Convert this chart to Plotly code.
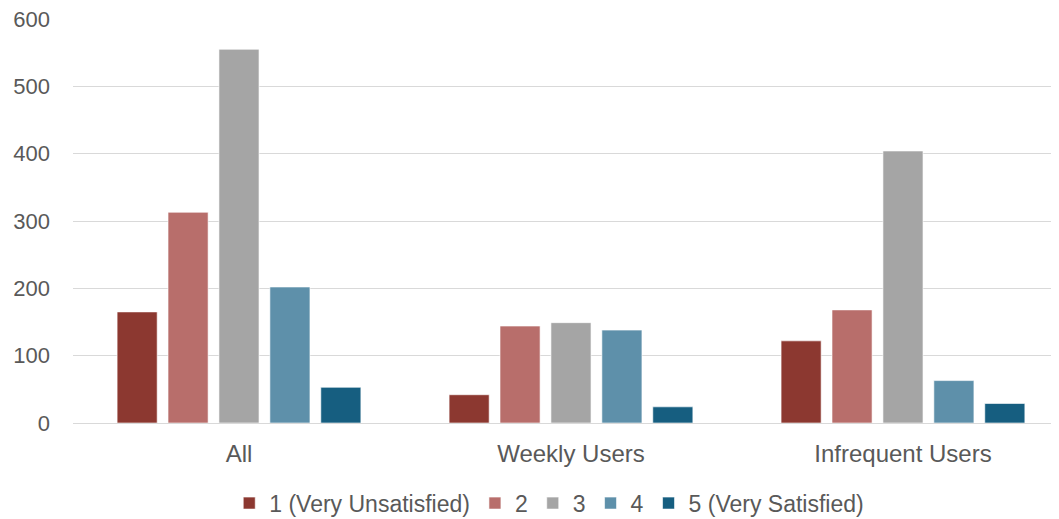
import plotly.graph_objects as go

categories = ["All", "Weekly Users", "Infrequent Users"]
series_names = ["1 (Very Unsatisfied)", "2", "3", "4", "5 (Very Satisfied)"]
s1 = [165, 42, 122]
s2 = [313, 144, 168]
s3 = [555, 149, 404]
s4 = [202, 138, 63]
s5 = [53, 24, 29]
colors = ["#8C3830", "#B86E6B", "#A5A5A5", "#5E90AA", "#165E80"]
y_ticks = [0, 100, 200, 300, 400, 500, 600]

fig = go.Figure()
for name, vals, col in zip(series_names, [s1, s2, s3, s4, s5], colors):
    fig.add_trace(go.Bar(
        x=categories, y=vals, name=name,
        marker=dict(color=col, line=dict(color="rgba(255,255,255,0.6)", width=1)),
    ))

font_family = "Liberation Sans, Arial, Helvetica, sans-serif"
fig.update_layout(
    width=1051, height=519,
    margin=dict(l=65, r=0, t=11, b=104),
    paper_bgcolor="white", plot_bgcolor="white",
    barmode="group", bargap=0.233, bargroupgap=0.213,
    font=dict(family=font_family, size=23, color="#595959"),
    showlegend=True,
    legend=dict(orientation="h", xanchor="center", x=0.483,
                yref="container", yanchor="middle", y=0.046,
                font=dict(size=23, color="#595959"),
                itemwidth=30, traceorder="normal"),
    xaxis=dict(type="category", range=[-0.5, 2.47], showgrid=False,
               showline=False, ticks="", ticklabelstandoff=14,
               automargin=False,
               tickfont=dict(size=24, color="#595959")),
    yaxis=dict(range=[0, 600], tickvals=y_ticks, showgrid=True,
               gridcolor="#D9D9D9", gridwidth=1, zeroline=True,
               zerolinecolor="#D9D9D9", zerolinewidth=1, showline=False,
               ticks="", ticklabelstandoff=22, automargin=False,
               ticklabeloverflow="allow",
               tickfont=dict(size=22, color="#595959")),
)

fig.write_html("out.html")
